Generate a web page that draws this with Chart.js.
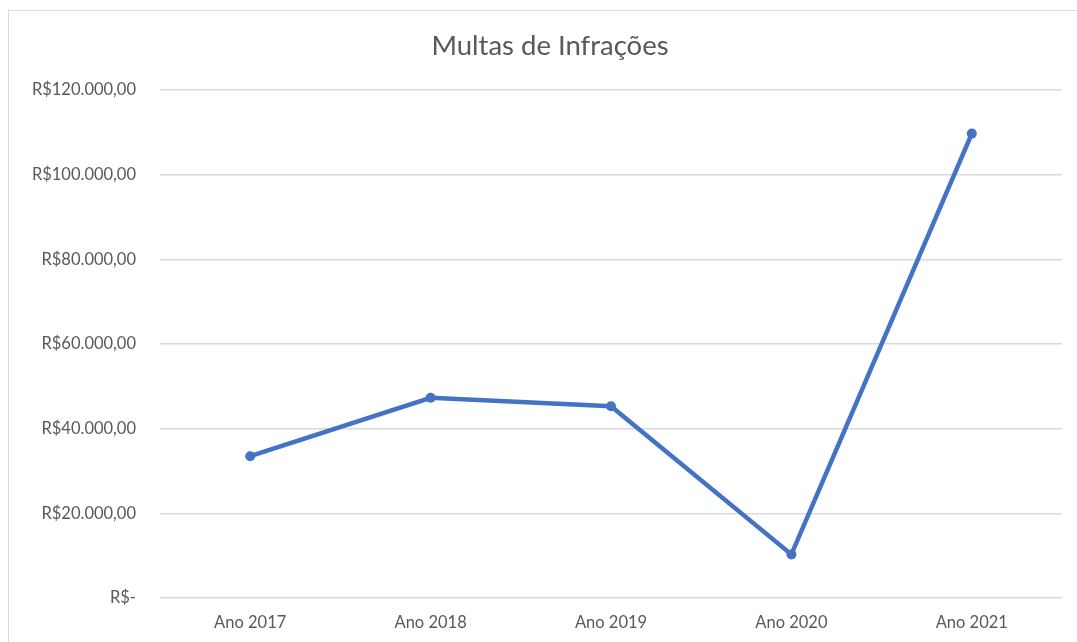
<!DOCTYPE html>
<html>
<head>
<meta charset="utf-8">
<script src="https://cdn.jsdelivr.net/npm/chart.js@4.4.1/dist/chart.umd.min.js"></script>
<style>
    html, body { margin: 0; padding: 0; background: #fff; overflow: hidden; }
    #box {
        position: absolute;
        left: 8px; top: 10px;
        width: 1084px; height: 640px;
        border: 1px solid #d9d9d9;
    }
    #box canvas { display: block; }
</style>
</head>
<body>
<div id="box"><canvas id="multasChart" width="1084" height="640"></canvas></div>
<script>
// ─────────────────────────────────────────────────────────────
// Data
// ─────────────────────────────────────────────────────────────
const chartTitle = 'Multas de Infrações';
const years = ['Ano 2017', 'Ano 2018', 'Ano 2019', 'Ano 2020', 'Ano 2021'];
const multas = [33500, 47300, 45300, 10300, 109700];
const yTicks = [0, 20000, 40000, 60000, 80000, 100000, 120000];

const lineColor = '#4472C4';
const textColor = '#595959';
const gridColor = '#d9d9d9';

function formatReal(value) {
    if (value === 0) return 'R$-';
    return 'R$' + value.toLocaleString('pt-BR', {minimumFractionDigits: 2, maximumFractionDigits: 2});
}

const ctx = document.getElementById('multasChart').getContext('2d');

new Chart(ctx, {
    type: 'line',
    data: {
        labels: years,
        datasets: [{
            label: chartTitle,
            data: multas,
            yAxisID: 'y',
            borderColor: lineColor,
            backgroundColor: lineColor,
            borderWidth: 4.5,
            pointRadius: 5,
            pointBackgroundColor: lineColor,
            pointBorderWidth: 0,
            tension: 0,
            fill: false
        }]
    },
    options: {
        responsive: false,
        animation: false,
        layout: {
            padding: { left: 11, right: 13, top: 0, bottom: 0 }
        },
        plugins: {
            legend: { display: false },
            tooltip: { enabled: false },
            title: {
                display: true,
                text: chartTitle,
                color: textColor,
                font: { family: 'Lato', size: 27.5, weight: 'normal' },
                padding: { top: 19, bottom: 27 }
            }
        },
        scales: {
            x: {
                offset: true,
                grid: { display: false },
                border: { display: false },
                ticks: {
                    color: textColor,
                    padding: 7,
                    font: { family: 'Lato', size: 16.5 }
                },
                afterFit: function(scale) { scale.height = 53; }
            },
            y: {
                min: 0,
                max: 120000,
                afterBuildTicks: function(scale) {
                    scale.ticks = yTicks.map(v => ({ value: v }));
                },
                grid: {
                    color: gridColor,
                    lineWidth: 1.5,
                    drawTicks: false
                },
                border: { display: false },
                ticks: {
                    color: textColor,
                    padding: 24,
                    font: { family: 'Lato', size: 16.5 },
                    callback: function(value) { return formatReal(value); }
                },
                afterFit: function(scale) { scale.width = 140; }
            },
            // empty right-hand spacer so the title centres on the whole box
            y2: {
                axis: 'y',
                position: 'right',
                grid: { display: false },
                border: { display: false },
                ticks: { display: false },
                afterFit: function(scale) { scale.width = 18; }
            }
        }
    }
});
</script>
</body>
</html>
